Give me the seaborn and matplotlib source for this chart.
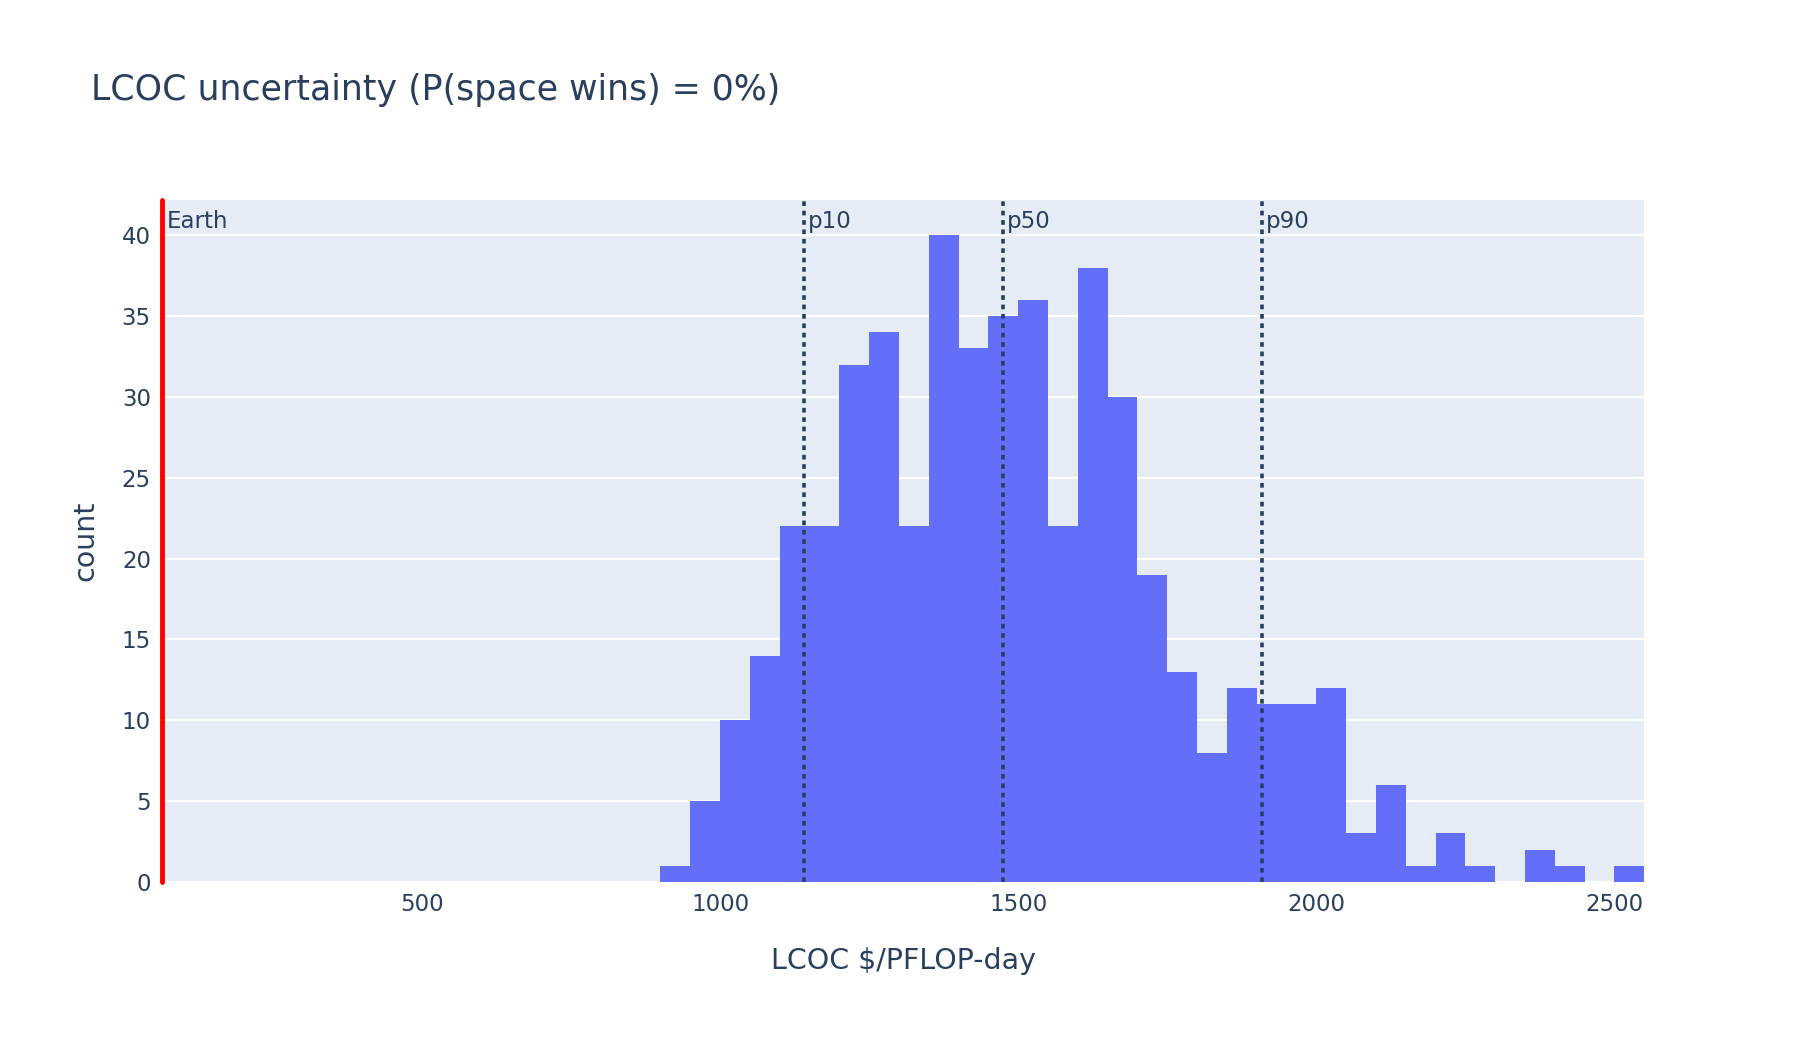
import matplotlib
matplotlib.use('Agg')
import matplotlib.pyplot as plt
import matplotlib.transforms as mtransforms
import numpy as np
import seaborn as sns

# histogram bins (left edges, width 50) and counts
bin_starts = [900, 950, 1000, 1050, 1100, 1150, 1200, 1250, 1300, 1350, 1400,
              1450, 1500, 1550, 1600, 1650, 1700, 1750, 1800, 1850, 1900, 1950,
              2000, 2050, 2100, 2150, 2200, 2250, 2300, 2350, 2400, 2450, 2500]
counts = [1, 5, 10, 14, 22, 22, 32, 34, 22, 40, 33,
          35, 36, 22, 38, 30, 19, 13, 8, 12, 11, 11,
          12, 3, 6, 1, 3, 1, 0, 2, 1, 0, 1]
bin_width = 50

earth_lcoc = 64
pct_labels = ['p10', 'p50', 'p90']
pct_values = [1141, 1475, 1909]

TEXT = '#2a3f5f'

sns.set_theme(style='darkgrid', rc={'axes.facecolor': '#E5ECF6',
                                    'grid.color': 'white',
                                    'grid.linewidth': 1.6})
plt.rcParams['font.family'] = ['DejaVu Sans']

fig = plt.figure(figsize=(18, 10.4), dpi=100)
ax = fig.add_axes([0.090, 0.152, 0.8235, 0.6560])

centers = [b + bin_width / 2 for b in bin_starts]
edges = bin_starts + [bin_starts[-1] + bin_width]
sns.histplot(x=centers, weights=counts, bins=edges, color='#636EFA',
             alpha=1, linewidth=0, ax=ax)

ax.set_xlim(earth_lcoc, 2550)
ax.set_ylim(0, 42.2)
ax.set_yticks(range(0, 41, 5))
ax.set_xticks([500, 1000, 1500, 2000, 2500])
ax.grid(axis='x', visible=False)
ax.set_axisbelow(True)
for s in ax.spines.values():
    s.set_visible(False)
ax.tick_params(length=0, labelsize=16.5, colors=TEXT, pad=8)

trans = mtransforms.blended_transform_factory(ax.transData, ax.transAxes)

# earth reference line
ax.axvline(earth_lcoc, color='red', linewidth=3.5, zorder=5, clip_on=False)
ax.text(earth_lcoc + 8, 0.985, 'Earth', transform=trans, va='top', ha='left',
        fontsize=16.5, color=TEXT)

for lab, v in zip(pct_labels, pct_values):
    ax.axvline(v, color=TEXT, linewidth=2.6, linestyle=(0, (1.3, 1.3)), zorder=4)
    ax.text(v + 6, 0.985, lab, transform=trans, va='top', ha='left',
            fontsize=16.5, color=TEXT)

ax.set_xlabel('LCOC $/PFLOP-day', fontsize=20.5, color=TEXT, labelpad=22)
ax.set_ylabel('count', fontsize=20.5, color=TEXT, labelpad=16)

fig.text(0.0506, 0.913, 'LCOC uncertainty (P(space wins) = 0%)',
         fontsize=25, color=TEXT, va='center', ha='left')

fig.savefig('out.png', dpi=100, facecolor='white')
